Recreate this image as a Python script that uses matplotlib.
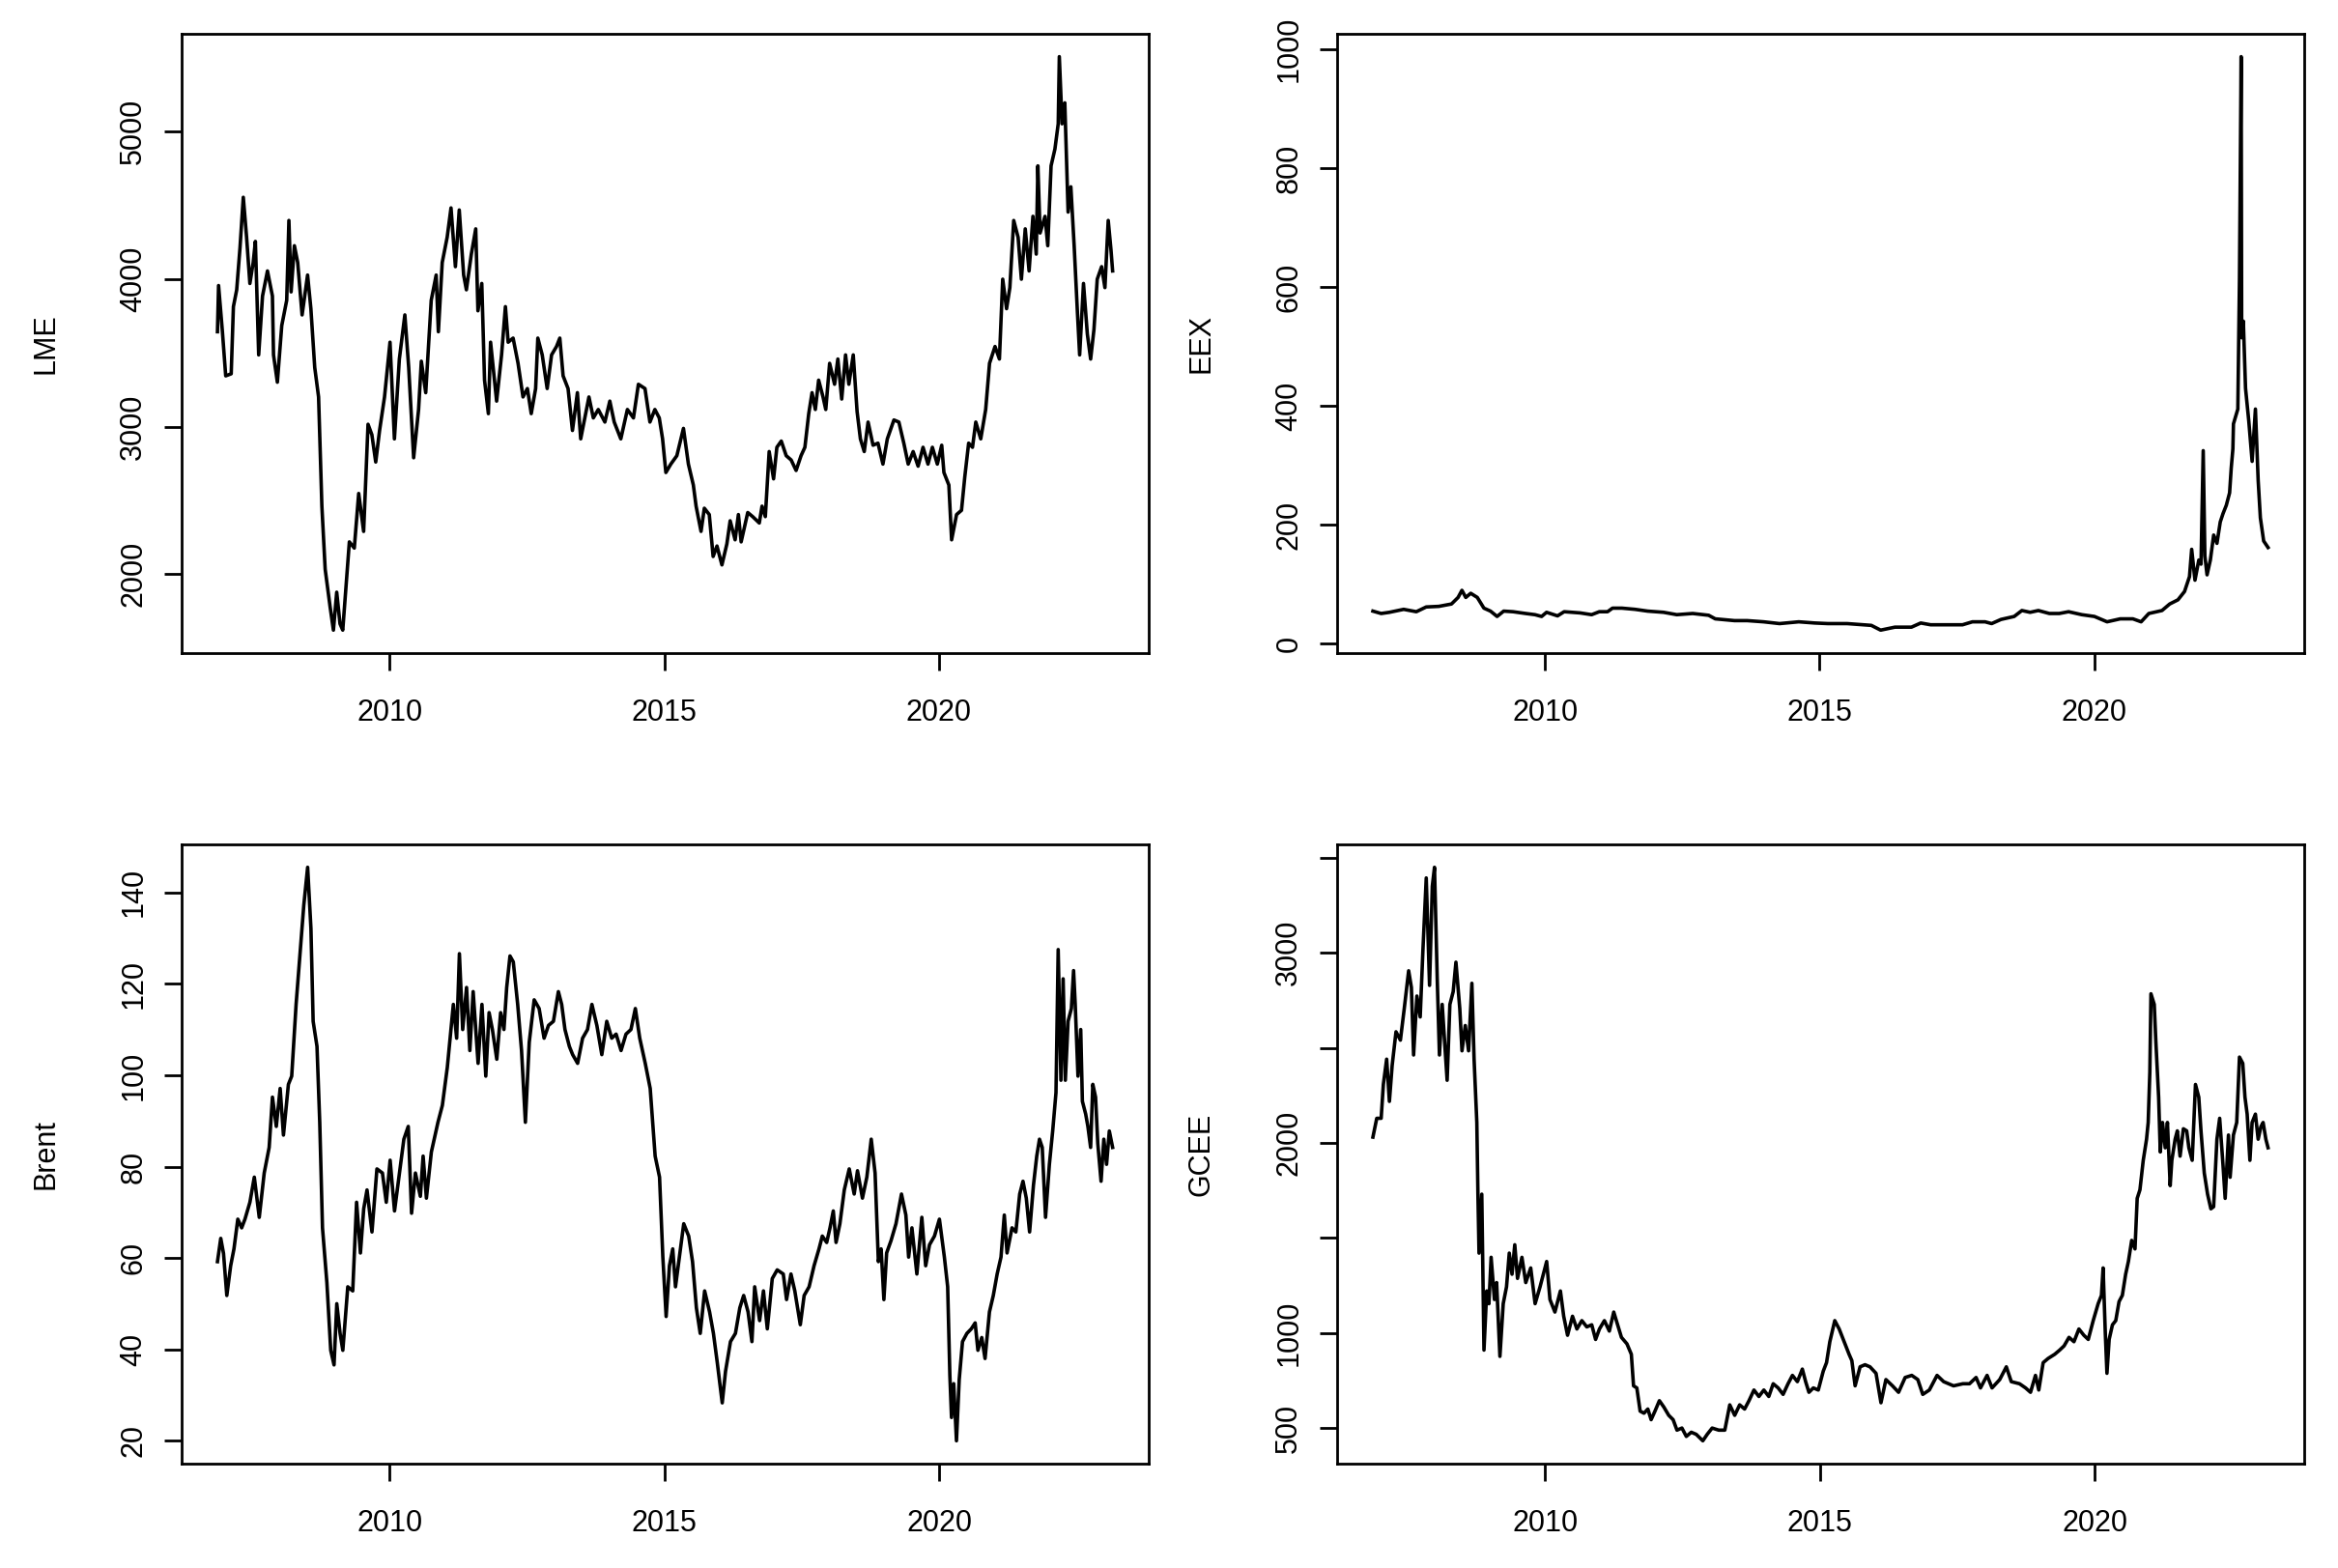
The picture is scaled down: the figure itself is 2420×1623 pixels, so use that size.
import numpy as np
import matplotlib
matplotlib.use("Agg")
from matplotlib import pyplot as plt

plt.rcParams['font.family'] = ['Liberation Sans', 'DejaVu Sans']

# values: (decimal year, value)
lme = [(2006.87,3643),(2006.89,3956),(2006.96,3643),(2007.02,3344),(2007.12,3358),(2007.16,3813),
       (2007.22,3927),(2007.28,4212),(2007.34,4554),(2007.40,4283),(2007.46,3970),(2007.52,4112),
       (2007.56,4255),(2007.62,3486),(2007.69,3885),(2007.78,4055),(2007.87,3885),(2007.89,3486),
       (2007.96,3301),(2008.04,3685),(2008.13,3856),(2008.17,4397),(2008.21,3913),(2008.27,4226),
       (2008.33,4112),(2008.41,3757),(2008.51,4027),(2008.57,3799),(2008.64,3401),(2008.71,3201),
       (2008.77,2461),(2008.83,2034),(2008.92,1778),(2008.98,1621),(2009.04,1878),(2009.10,1664),
       (2009.15,1621),(2009.21,1920),(2009.27,2219),(2009.36,2177),(2009.44,2547),(2009.53,2290),
       (2009.61,3016),(2009.68,2945),(2009.75,2760),(2009.82,2974),(2009.91,3201),(2010.01,3572),
       (2010.09,2917),(2010.18,3458),(2010.28,3757),(2010.35,3401),(2010.44,2789),(2010.53,3116),
       (2010.58,3443),(2010.66,3230),(2010.76,3856),(2010.85,4027),(2010.89,3643),(2010.96,4112),
       (2011.05,4283),(2011.12,4482),(2011.20,4084),(2011.27,4468),(2011.35,4027),(2011.40,3927),
       (2011.49,4169),(2011.57,4340),(2011.61,3785),(2011.68,3970),(2011.73,3315),(2011.80,3088),
       (2011.84,3572),(2011.95,3173),(2012.04,3486),(2012.11,3813),(2012.16,3572),(2012.25,3600),
       (2012.34,3429),(2012.43,3201),(2012.51,3258),(2012.58,3088),(2012.66,3258),(2012.70,3600),
       (2012.78,3486),(2012.87,3258),(2012.95,3486),(2013.04,3543),(2013.10,3600),(2013.16,3344),
       (2013.25,3258),(2013.33,2974),(2013.42,3230),(2013.48,2917),(2013.57,3088),(2013.63,3201),
       (2013.71,3059),(2013.80,3116),(2013.92,3031),(2014.01,3173),(2014.09,3031),(2014.21,2917),
       (2014.33,3116),(2014.44,3059),(2014.53,3287),(2014.65,3258),(2014.74,3031),(2014.83,3116),
       (2014.91,3059),(2014.97,2917),(2015.03,2689),(2015.12,2746),(2015.23,2803),(2015.35,2988),
       (2015.44,2746),(2015.53,2604),(2015.58,2461),(2015.67,2290),(2015.73,2447),(2015.82,2404),
       (2015.89,2120),(2015.96,2191),(2016.05,2063),(2016.14,2205),(2016.20,2362),(2016.29,2233),
       (2016.35,2404),(2016.40,2219),(2016.52,2418),(2016.61,2390),(2016.73,2347),(2016.78,2461),
       (2016.84,2390),(2016.91,2831),(2016.99,2646),(2017.05,2860),(2017.13,2902),(2017.22,2803),
       (2017.31,2774),(2017.40,2703),(2017.49,2803),(2017.56,2860),(2017.63,3088),(2017.69,3230),
       (2017.75,3116),(2017.81,3315),(2017.89,3201),(2017.94,3116),(2018.01,3429),(2018.10,3287),
       (2018.16,3458),(2018.23,3187),(2018.30,3486),(2018.36,3287),(2018.44,3486),(2018.51,3102),
       (2018.57,2917),(2018.64,2831),(2018.71,3031),(2018.80,2874),(2018.89,2888),(2018.98,2746),
       (2019.06,2917),(2019.18,3045),(2019.27,3031),(2019.36,2888),(2019.44,2746),(2019.53,2831),
       (2019.62,2732),(2019.71,2860),(2019.80,2746),(2019.88,2860),(2019.97,2746),(2020.05,2874),
       (2020.09,2689),(2020.18,2604),(2020.23,2233),(2020.32,2404),(2020.41,2433),(2020.47,2660),
       (2020.54,2888),(2020.61,2860),(2020.67,3031),(2020.76,2917),(2020.85,3116),(2020.92,3429),
       (2021.02,3543),(2021.10,3458),(2021.16,3999),(2021.23,3799),(2021.29,3942),(2021.36,4397),
       (2021.44,4283),(2021.50,3999),(2021.57,4340),(2021.64,4055),(2021.71,4425),(2021.77,4169),
       (2021.80,4767),(2021.84,4312),(2021.93,4425),(2021.98,4226),(2022.04,4767),(2022.11,4881),
       (2022.17,5052),(2022.19,5507),(2022.24,5052),(2022.29,5194),(2022.35,4454),(2022.40,4625),
       (2022.46,4226),(2022.52,3771),(2022.56,3486),(2022.63,3970),(2022.70,3628),(2022.76,3458),
       (2022.82,3657),(2022.88,3999),(2022.96,4084),(2023.02,3942),(2023.08,4397),(2023.13,4198),
       (2023.16,4055)]

eex = [(2006.87,55),(2007.02,51),(2007.17,53),(2007.43,58),(2007.66,54),(2007.84,62),(2008.07,63),
       (2008.30,67),(2008.42,78),(2008.49,90),(2008.56,78),(2008.65,85),(2008.77,78),(2008.89,60),
       (2009.01,55),(2009.13,46),(2009.25,55),(2009.42,54),(2009.65,51),(2009.82,49),(2009.94,46),
       (2010.03,53),(2010.23,47),(2010.35,54),(2010.64,52),(2010.85,49),(2010.99,54),(2011.14,54),
       (2011.23,60),(2011.40,60),(2011.64,58),(2011.87,55),(2012.16,53),(2012.40,49),(2012.69,51),
       (2012.98,48),(2013.10,42),(2013.45,39),(2013.68,39),(2013.98,37),(2014.27,34),(2014.62,37),
       (2014.91,35),(2015.15,34),(2015.50,34),(2015.94,31),(2016.11,23),(2016.37,28),(2016.67,28),
       (2016.84,35),(2017.02,32),(2017.31,32),(2017.60,32),(2017.78,37),(2018.01,37),(2018.13,34),
       (2018.30,41),(2018.54,46),(2018.68,56),(2018.83,53),(2018.98,56),(2019.18,51),(2019.36,51),
       (2019.53,54),(2019.77,49),(2020.00,46),(2020.23,37),(2020.47,42),(2020.70,42),(2020.85,37),
       (2020.99,51),(2021.23,56),(2021.37,67),(2021.52,74),(2021.64,88),(2021.73,113),(2021.77,159),
       (2021.83,107),(2021.90,141),(2021.94,134),(2021.98,325),(2022.01,148),(2022.05,116),
       (2022.11,141),(2022.17,183),(2022.23,169),(2022.29,205),(2022.34,219),(2022.40,233),
       (2022.46,254),(2022.49,296),(2022.52,328),(2022.53,370),(2022.61,395),(2022.64,614),
       (2022.67,988),(2022.68,515),(2022.71,543),(2022.75,430),(2022.81,374),(2022.87,307),
       (2022.93,395),(2022.98,275),(2023.02,212),(2023.08,173),(2023.16,162)]

brent = [(2006.87,59.2),(2006.93,64.3),(2006.98,61.0),(2007.04,51.8),(2007.11,58.3),(2007.17,62.0),
         (2007.24,68.5),(2007.31,66.6),(2007.37,68.5),(2007.46,72.2),(2007.54,77.7),(2007.63,68.9),
         (2007.72,78.6),(2007.81,84.2),(2007.87,95.2),(2007.94,88.8),(2008.01,97.1),(2008.07,86.9),
         (2008.16,98.0),(2008.22,99.8),(2008.30,115.5),(2008.36,124.8),(2008.44,137.2),(2008.51,145.5),
         (2008.57,132.1),(2008.61,111.8),(2008.68,106.3),(2008.73,89.7),(2008.78,66.6),(2008.86,54.6),
         (2008.93,39.8),(2008.99,36.6),(2009.04,50.0),(2009.10,43.5),(2009.15,39.8),(2009.24,53.7),
         (2009.33,52.8),(2009.40,72.2),(2009.47,61.1),(2009.53,70.8),(2009.59,74.9),(2009.68,65.7),
         (2009.77,79.5),(2009.87,78.6),(2009.94,72.2),(2010.01,81.4),(2010.09,70.3),(2010.18,78.6),
         (2010.26,86.0),(2010.34,88.8),(2010.40,69.8),(2010.47,78.6),(2010.56,73.5),(2010.61,82.3),
         (2010.67,73.1),(2010.76,83.2),(2010.88,89.7),(2010.96,93.4),(2011.05,101.7),(2011.16,115.5),
         (2011.22,108.1),(2011.27,126.6),(2011.33,110.0),(2011.40,119.2),(2011.46,105.4),(2011.52,118.3),
         (2011.61,102.6),(2011.68,115.5),(2011.75,99.8),(2011.81,113.7),(2011.87,110.0),(2011.95,103.5),
         (2012.02,113.7),(2012.08,110.0),(2012.13,119.2),(2012.19,126.1),(2012.25,124.8),(2012.33,115.5),
         (2012.40,105.4),(2012.47,89.7),(2012.54,107.2),(2012.63,116.5),(2012.72,114.6),(2012.81,108.1),
         (2012.89,110.9),(2012.98,111.8),(2013.07,118.3),(2013.13,115.5),(2013.19,110.0),(2013.27,106.3),
         (2013.33,104.5),(2013.42,102.6),(2013.51,108.1),(2013.60,110.0),(2013.68,115.5),(2013.77,110.9),
         (2013.86,104.5),(2013.95,111.8),(2014.04,108.1),(2014.12,109.0),(2014.21,105.4),(2014.30,109.0),
         (2014.39,110.0),(2014.47,114.6),(2014.55,108.1),(2014.65,102.6),(2014.74,97.1),(2014.83,82.3),
         (2014.91,77.7),(2014.97,60.2),(2015.03,47.2),(2015.09,58.3),(2015.15,62.0),(2015.20,53.7),
         (2015.26,59.2),(2015.35,67.5),(2015.44,64.8),(2015.51,59.2),(2015.58,49.1),(2015.65,43.5),
         (2015.73,52.8),(2015.82,48.2),(2015.89,43.5),(2015.96,37.1),(2016.05,28.3),(2016.11,35.2),
         (2016.20,41.7),(2016.29,43.5),(2016.37,49.1),(2016.44,51.8),(2016.52,48.2),(2016.59,41.7),
         (2016.64,53.7),(2016.73,46.3),(2016.80,52.8),(2016.87,44.5),(2016.96,55.5),(2017.05,57.4),
         (2017.16,56.5),(2017.22,50.9),(2017.30,56.5),(2017.37,52.8),(2017.47,45.4),(2017.54,51.8),
         (2017.63,53.7),(2017.72,58.3),(2017.81,62.0),(2017.87,64.8),(2017.95,63.4),(2018.01,66.6),
         (2018.07,70.3),(2018.12,63.4),(2018.19,67.5),(2018.27,74.9),(2018.36,79.5),(2018.45,74.0),
         (2018.51,79.1),(2018.60,73.1),(2018.68,77.7),(2018.76,86.0),(2018.83,78.6),(2018.89,59.2),
         (2018.94,62.0),(2018.99,50.9),(2019.04,61.1),(2019.12,63.8),(2019.21,67.5),(2019.31,74.0),
         (2019.39,69.4),(2019.44,60.2),(2019.50,66.6),(2019.59,56.5),(2019.68,68.9),(2019.75,58.3),
         (2019.82,62.9),(2019.91,64.8),(2020.00,68.5),(2020.09,60.2),(2020.15,53.7),(2020.19,34.3),
         (2020.22,25.1),(2020.26,32.5),(2020.31,20.0),(2020.36,33.4),(2020.42,41.7),(2020.50,43.5),
         (2020.58,44.5),(2020.65,45.8),(2020.70,39.8),(2020.77,42.6),(2020.83,38.0),(2020.91,48.2),
         (2020.98,51.8),(2021.05,56.5),(2021.12,60.2),(2021.18,69.4),(2021.23,61.1),(2021.32,66.6),
         (2021.39,65.7),(2021.46,74.0),(2021.52,76.8),(2021.58,73.1),(2021.64,65.7),(2021.71,75.9),
         (2021.77,82.3),(2021.82,86.0),(2021.87,84.2),(2021.93,68.9),(2022.00,80.5),(2022.06,87.8),
         (2022.12,96.2),(2022.16,127.5),(2022.21,98.9),(2022.25,121.1),(2022.29,98.9),(2022.34,111.8),
         (2022.40,114.6),(2022.44,122.9),(2022.47,115.5),(2022.52,99.8),(2022.57,110.0),(2022.60,94.3),
         (2022.66,91.5),(2022.70,88.8),(2022.75,84.2),(2022.79,98.0),(2022.84,95.2),(2022.88,85.1),
         (2022.94,76.8),(2022.99,86.0),(2023.04,80.5),(2023.09,87.8),(2023.15,84.2)]

gcee = [(2006.87,2030),(2006.94,2129),(2007.02,2129),(2007.06,2307),(2007.12,2440),(2007.17,2218),
        (2007.22,2407),(2007.29,2584),(2007.37,2540),(2007.44,2706),(2007.52,2905),(2007.57,2817),
        (2007.61,2462),(2007.67,2772),(2007.73,2662),(2007.78,3016),(2007.84,3393),(2007.90,2828),
        (2007.95,3349),(2007.99,3449),(2008.04,2861),(2008.08,2462),(2008.13,2728),(2008.22,2329),
        (2008.27,2728),(2008.33,2795),(2008.38,2950),(2008.45,2706),(2008.49,2484),(2008.55,2617),
        (2008.61,2484),(2008.67,2839),(2008.71,2440),(2008.76,2107),(2008.78,1730),(2008.80,1420),
        (2008.85,1730),(2008.89,910),(2008.94,1221),(2008.98,1154),(2009.02,1398),(2009.08,1176),
        (2009.12,1265),(2009.18,877),(2009.24,1154),(2009.30,1243),(2009.35,1420),(2009.40,1309),
        (2009.45,1464),(2009.50,1287),(2009.58,1398),(2009.65,1265),(2009.74,1342),(2009.82,1154),
        (2009.91,1243),(2009.97,1309),(2010.03,1376),(2010.09,1176),(2010.18,1110),(2010.28,1221),
        (2010.34,1088),(2010.41,988),(2010.50,1088),(2010.58,1021),(2010.67,1065),(2010.76,1032),
        (2010.85,1043),(2010.92,966),(2010.99,1021),(2011.08,1065),(2011.17,1010),(2011.25,1110),
        (2011.32,1043),(2011.39,977),(2011.49,943),(2011.57,888),(2011.61,722),(2011.67,711),
        (2011.73,589),(2011.80,578),(2011.87,600),(2011.93,544),(2012.00,589),(2012.08,644),
        (2012.16,611),(2012.25,567),(2012.33,544),(2012.40,489),(2012.49,500),(2012.57,456),
        (2012.66,478),(2012.75,467),(2012.87,433),(2012.95,467),(2013.04,500),(2013.16,489),
        (2013.27,489),(2013.36,622),(2013.45,567),(2013.54,622),(2013.63,600),(2013.71,644),
        (2013.80,700),(2013.89,666),(2013.98,700),(2014.07,666),(2014.15,733),(2014.24,711),
        (2014.33,677),(2014.42,733),(2014.50,777),(2014.59,744),(2014.68,810),(2014.74,744),
        (2014.80,688),(2014.88,711),(2014.97,700),(2015.06,799),(2015.12,844),(2015.18,954),
        (2015.27,1065),(2015.35,1021),(2015.44,954),(2015.53,888),(2015.58,855),(2015.64,722),
        (2015.73,822),(2015.82,833),(2015.91,822),(2016.02,788),(2016.11,633),(2016.20,755),
        (2016.32,722),(2016.43,688),(2016.55,766),(2016.67,777),(2016.78,755),(2016.87,677),
        (2016.99,700),(2017.13,777),(2017.25,744),(2017.43,722),(2017.60,733),(2017.72,733),
        (2017.84,766),(2017.92,711),(2018.04,777),(2018.13,711),(2018.27,755),(2018.39,822),
        (2018.48,744),(2018.63,733),(2018.74,711),(2018.83,688),(2018.92,777),(2018.98,700),
        (2019.06,844),(2019.15,866),(2019.27,888),(2019.36,910),(2019.44,932),(2019.53,977),
        (2019.62,954),(2019.71,1021),(2019.80,988),(2019.88,966),(2019.97,1065),(2020.06,1154),
        (2020.12,1198),(2020.15,1342),(2020.19,999),(2020.22,788),(2020.26,966),(2020.32,1043),
        (2020.38,1065),(2020.44,1165),(2020.50,1198),(2020.56,1309),(2020.61,1376),(2020.67,1487),
        (2020.73,1442),(2020.77,1708),(2020.82,1753),(2020.88,1908),(2020.94,2019),(2020.97,2107),
        (2021.00,2373),(2021.02,2784),(2021.08,2728),(2021.11,2529),(2021.16,2240),(2021.19,1952),
        (2021.23,2107),(2021.28,1974),(2021.32,2107),(2021.37,1775),(2021.40,1908),(2021.46,2019),
        (2021.50,2063),(2021.55,1930),(2021.61,2074),(2021.67,2063),(2021.71,1974),(2021.77,1908),
        (2021.83,2307),(2021.89,2240),(2021.93,2063),(2021.99,1841),(2022.05,1730),(2022.11,1653),
        (2022.16,1664),(2022.22,2019),(2022.27,2129),(2022.33,1885),(2022.37,1708),(2022.43,2041),
        (2022.46,1819),(2022.52,2041),(2022.58,2107),(2022.63,2451),(2022.69,2418),(2022.73,2240),
        (2022.77,2151),(2022.82,1908),(2022.86,2107),(2022.92,2151),(2022.97,2019),(2023.02,2085),
        (2023.06,2107),(2023.11,2019),(2023.15,1974)]

names = ['LME', 'EEX', 'Brent', 'GCEE']
x_ticks = [2010, 2015, 2020]
y_ticks = {
    'LME': [2000, 3000, 4000, 5000],
    'EEX': [0, 200, 400, 600, 800, 1000],
    'Brent': [20, 40, 60, 80, 100, 120, 140],
    'GCEE': [500, 1000, 1500, 2000, 2500, 3000, 3500],
}
y_ticklabels = {
    'GCEE': ['500', '1000', '', '2000', '', '3000', ''],
}

fig = plt.figure(figsize=(24.2, 16.23), dpi=100)
boxes = [(0.0777, 0.5835), (0.5719, 0.5835), (0.0777, 0.0665), (0.5719, 0.0665)]
w, h = 0.4135, 0.3950

for name, series, (x0, y0) in zip(names, [lme, eex, brent, gcee], boxes):
    ax = fig.add_axes([x0, y0, w, h])
    t = np.array([p[0] for p in series])
    v = np.array([p[1] for p in series])
    ax.plot(t, v, color='black', lw=2.6)

    # R style 4% padding
    tr = t.max() - t.min()
    vr = v.max() - v.min()
    ax.set_xlim(t.min() - 0.04 * tr, t.max() + 0.04 * tr)
    ax.set_ylim(v.min() - 0.04 * vr, v.max() + 0.04 * vr)

    ax.set_xticks(x_ticks)
    ax.set_yticks(y_ticks[name])
    if name in y_ticklabels:
        ax.set_yticklabels(y_ticklabels[name])
    ax.tick_params(axis='both', length=13, width=2, labelsize=22, pad=12)
    ax.tick_params(axis='x', pad=21)
    for lab in ax.get_yticklabels():
        lab.set_rotation(90)
        lab.set_va('center')
        lab.set_ha('right')
    for s in ax.spines.values():
        s.set_linewidth(2)
    ax.set_ylabel(name, fontsize=22)
    ax.yaxis.set_label_coords(-0.125, 0.5)

fig.savefig('out.png', dpi=100, facecolor='white')
